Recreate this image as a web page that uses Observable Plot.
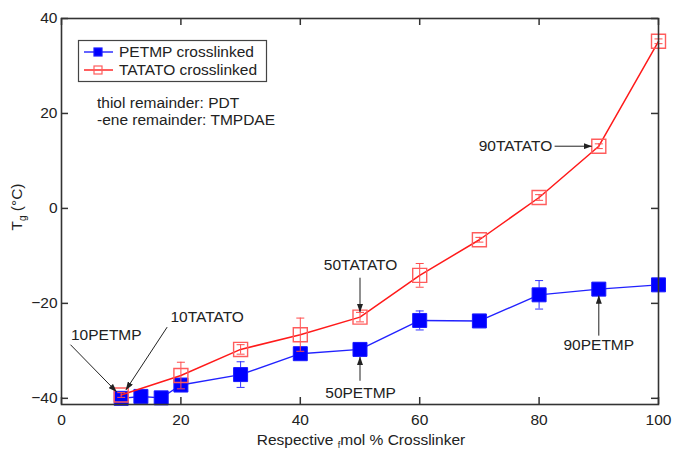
<!DOCTYPE html>
<html><head><meta charset="utf-8">
<script src="https://cdn.jsdelivr.net/npm/d3@7"></script>
<script src="https://cdn.jsdelivr.net/npm/@observablehq/plot@0.6"></script>
<style>body{margin:0;background:#fff;}</style>
</head><body><div id="chart"></div>
<script>
// ---- data ----
const xTicks = [0, 20, 40, 60, 80, 100];
const yTicks = [-40, -20, 0, 20, 40];

const petmpX   = [10, 13.3, 16.7, 20, 30, 40, 50, 60, 70, 80, 90, 100];
const petmpY   = [-40, -39.6, -39.9, -37.2, -35.0, -30.6, -29.7, -23.6, -23.7, -18.2, -17.0, -16.1];
const petmpErr = [0.5, 0.3, 0.3, 1.2, 2.7, 0.8, 0.8, 2.0, 0.3, 3.0, 0.5, 0.3];

const tatatoX   = [10, 20, 30, 40, 50, 60, 70, 80, 90, 100];
const tatatoY   = [-39.3, -35.2, -29.7, -26.6, -22.9, -14.1, -6.6, 2.3, 13.1, 35.2];
const tatatoErr = [0.5, 2.8, 1.0, 3.5, 1.0, 2.5, 0.5, 0.6, 0.5, 0.5];

const seriesNames = ["PETMP crosslinked", "TATATO crosslinked"];
const notes = ["thiol remainder: PDT", "-ene remainder: TMPDAE"];

const annLabels = ["10PETMP", "10TATATO", "50TATATO", "50PETMP", "90TATATO", "90PETMP"];
const annX      = [7.5, 24.4, 50.1, 50.1, 82.2, 90];
const annY      = [-26.7, -22.9, -12.0, -38.9, 13.05, -28.8];
const annAnchor = ["middle", "middle", "middle", "middle", "end", "middle"];

const arrowX1 = [1.5, 17.7, 50, 50, 82.6, 90];
const arrowY1 = [-28.7, -25.0, -14.6, -36.3, 13.1, -26.8];
const arrowX2 = [9.2, 10.8, 50, 50, 88.8, 90];
const arrowY2 = [-38.6, -38.2, -21.8, -31.3, 13.1, -18.4];

// ---- tables ----
const petmp = petmpX.map((x, i) => ({x, y: petmpY[i], e: petmpErr[i]}));
const tatato = tatatoX.map((x, i) => ({x, y: tatatoY[i], e: tatatoErr[i]}));
const anns = annLabels.map((label, i) => ({label, x: annX[i], y: annY[i], anchor: annAnchor[i]}));
const arrows = arrowX1.map((x1, i) => ({x1, y1: arrowY1[i], x2: arrowX2[i], y2: arrowY2[i]}));

const W = 673, H = 450, mL = 61, mR = 15, mT = 18, mB = 46;
const iW = W - mL - mR, iH = H - mT - mB;
const TL = 7;
const font = "Liberation Sans, Arial, Helvetica, sans-serif";
const ink = "#222";
const axisColor = "#333";
const blue = "#0000ff", red = "#ff1a1a", redMark = "#ff5c5c";

const cap = {draw(ctx, size) { const r = Math.sqrt(size / Math.PI); ctx.moveTo(-r, 0); ctx.lineTo(r, 0); }};

function errMarks(data, color) {
  return [
    Plot.ruleX(data, {x: "x", y1: d => d.y - d.e, y2: d => d.y + d.e, stroke: color, strokeWidth: 1}),
    Plot.dot(data, {x: "x", y: d => d.y + d.e, symbol: cap, r: 4, stroke: color, fill: "none", strokeWidth: 1}),
    Plot.dot(data, {x: "x", y: d => d.y - d.e, symbol: cap, r: 4, stroke: color, fill: "none", strokeWidth: 1})
  ];
}

const chart = Plot.plot({
  width: W, height: H,
  marginLeft: mL, marginRight: mR, marginTop: mT, marginBottom: mB,
  style: {fontFamily: font, fontSize: "15px", color: ink, background: "#fff"},
  x: {domain: [0, 100], label: null},
  y: {domain: [-41.3, 40], label: null},
  marks: [
    Plot.line(petmp, {x: "x", y: "y", stroke: "#2222ff", strokeWidth: 1.4}),
    ...errMarks(petmp, "#3333ff"),
    Plot.dot(petmp, {x: "x", y: "y", symbol: "square", r: 7.9, fill: blue, stroke: "#1a1aff", strokeWidth: 1}),
    Plot.line(tatato, {x: "x", y: "y", stroke: red, strokeWidth: 1.5}),
    ...errMarks(tatato, "#ff4d4d"),
    Plot.dot(tatato, {x: "x", y: "y", symbol: "square", r: 7.9, fill: "none", stroke: redMark, strokeWidth: 1.4}),
    Plot.link(arrows, {x1: "x1", y1: "y1", x2: "x2", y2: "y2", stroke: ink, strokeWidth: 1, markerEnd: "arrow"}),
    Plot.text(anns.filter(d => d.anchor === "middle"), {x: "x", y: "y", text: "label", textAnchor: "middle", fill: ink, fontSize: 15.5}),
    Plot.text(anns.filter(d => d.anchor === "end"), {x: "x", y: "y", text: "label", textAnchor: "end", fill: ink, fontSize: 15.5}),
    Plot.frame({stroke: axisColor, strokeWidth: 1.6}),
    Plot.tickX(xTicks, {x: d => d, insetTop: iH - TL, stroke: axisColor, strokeWidth: 1.5}),
    Plot.tickX(xTicks, {x: d => d, insetBottom: iH - TL, stroke: axisColor, strokeWidth: 1.5}),
    Plot.tickY(yTicks, {y: d => d, insetRight: iW - TL, stroke: axisColor, strokeWidth: 1.5}),
    Plot.tickY(yTicks, {y: d => d, insetLeft: iW - TL, stroke: axisColor, strokeWidth: 1.5}),
    Plot.axisX({ticks: xTicks, tickSize: 0, tickPadding: 9, fontSize: 15.5, label: null, fill: ink}),
    Plot.axisY({ticks: yTicks, tickSize: 0, tickPadding: 4, fontSize: 15.5, label: null, fill: ink})
  ]
});

document.getElementById("chart").appendChild(chart);
const svg = d3.select(chart);

svg.selectAll("marker")
  .attr("viewBox", "-8 -3 8.5 6")
  .attr("markerWidth", 8.5)
  .attr("markerHeight", 6)
  .attr("fill", ink)
  .attr("stroke", "none")
  .selectAll("path").attr("d", "M-8,-3L0.5,0L-8,3Z");

const xl = svg.append("text")
  .attr("x", 361).attr("y", H - 5)
  .attr("text-anchor", "middle")
  .attr("font-family", font).attr("font-size", 15.5).attr("fill", ink);
xl.append("tspan").text("Respective ");
xl.append("tspan").text("f").attr("font-size", 9).attr("dy", 3);
xl.append("tspan").text("mol % Crosslinker").attr("dy", -3);

const yl = svg.append("text")
  .attr("transform", `translate(22,${mT + iH / 2 - 4}) rotate(-90)`)
  .attr("text-anchor", "middle")
  .attr("font-family", font).attr("font-size", 15.5).attr("fill", ink);
yl.append("tspan").text("T");
yl.append("tspan").text("g").attr("font-size", 10).attr("dy", 4);
yl.append("tspan").text(" (°C)").attr("dy", -4);

const lg = svg.append("g").attr("font-family", font).attr("font-size", 15.5)
  .attr("fill", ink).attr("text-anchor", "start");
lg.append("rect").attr("x", 78.5).attr("y", 40.5).attr("width", 188).attr("height", 41)
  .attr("fill", "#fff").attr("stroke", "#444").attr("stroke-width", 1.2);
const legendRows = [
  {name: seriesNames[0], line: "#2222ff", fill: blue, stroke: "#1a1aff"},
  {name: seriesNames[1], line: red, fill: "none", stroke: redMark}
];
legendRows.forEach((r, i) => {
  const cy = 52 + i * 18;
  lg.append("line").attr("x1", 84).attr("x2", 113).attr("y1", cy).attr("y2", cy)
    .attr("stroke", r.line).attr("stroke-width", 1.4);
  lg.append("rect").attr("x", 94).attr("y", cy - 4).attr("width", 8).attr("height", 8)
    .attr("fill", r.fill).attr("stroke", r.stroke).attr("stroke-width", 1.2);
  lg.append("text").attr("x", 119).attr("y", cy).attr("dy", "0.35em").attr("text-anchor", "start").text(r.name);
});
notes.forEach((t, i) => {
  lg.append("text").attr("x", 97).attr("y", 103 + i * 17).attr("dy", "0.35em").attr("text-anchor", "start").text(t);
});
</script>
</body></html>
